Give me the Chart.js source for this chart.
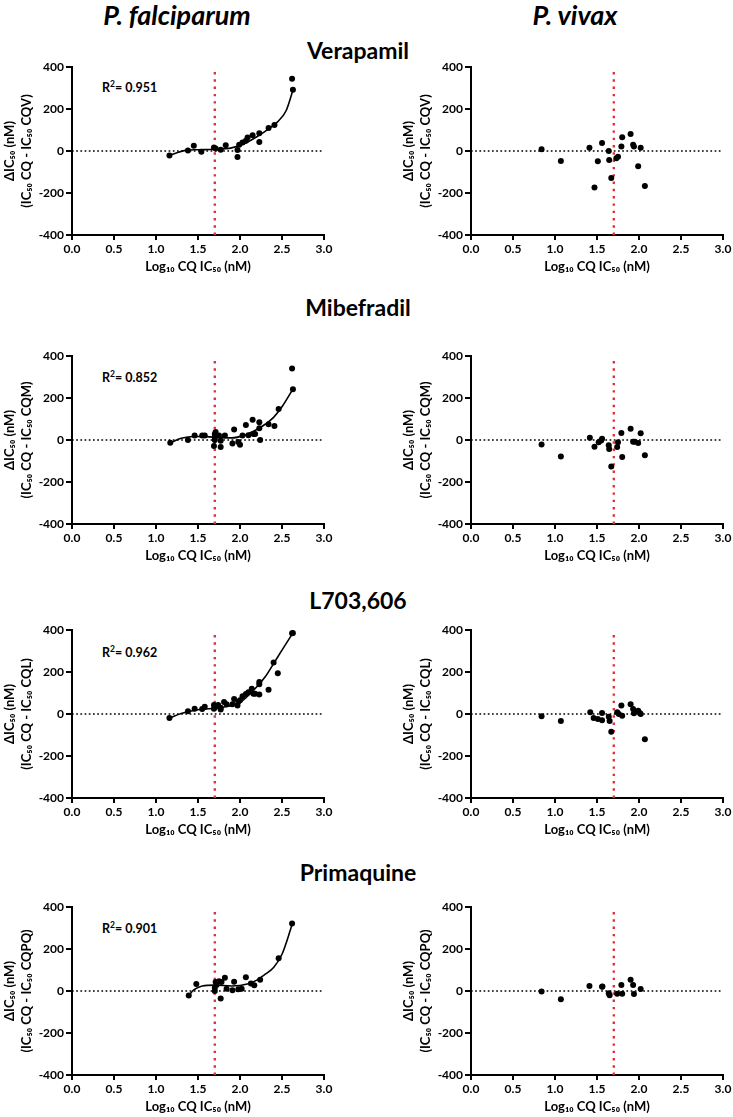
<!DOCTYPE html>
<html><head><meta charset="utf-8">
<script src="https://cdn.jsdelivr.net/npm/chart.js@4.4.1/dist/chart.umd.min.js"></script>
<style>
body{margin:0;background:#fff;width:733px;height:1117px;position:relative;overflow:hidden;font-family:Lato,"Open Sans",sans-serif;color:#000;}
.lab{position:absolute;font-weight:bold;white-space:nowrap;transform:translate(-50%,-50%);}
.r2{position:absolute;font-weight:bold;font-size:12.5px;white-space:nowrap;transform:translateY(-50%);}
.r2 sup{font-size:8.5px;vertical-align:5px;line-height:0;}
canvas{position:absolute;}
</style></head><body>
<div class="lab" style="left:177px;top:14px;font-size:27px;font-style:italic">P. falciparum</div>
<div class="lab" style="left:575px;top:14px;font-size:27px;font-style:italic">P. vivax</div>
<div class="lab" style="left:358px;top:50px;font-size:23px">Verapamil</div>
<div class="lab" style="left:358px;top:307px;font-size:23px">Mibefradil</div>
<div class="lab" style="left:358px;top:600px;font-size:23px">L703,606</div>
<div class="lab" style="left:358px;top:872px;font-size:23px">Primaquine</div>
<div class="r2" style="left:102px;top:87px">R<sup>2</sup>= 0.951</div>
<div class="r2" style="left:102px;top:377px">R<sup>2</sup>= 0.852</div>
<div class="r2" style="left:102px;top:652px">R<sup>2</sup>= 0.962</div>
<div class="r2" style="left:102px;top:928px">R<sup>2</sup>= 0.901</div>
<canvas id="c1"></canvas><canvas id="c2"></canvas>
<canvas id="c3"></canvas><canvas id="c4"></canvas>
<canvas id="c5"></canvas><canvas id="c6"></canvas>
<canvas id="c7"></canvas><canvas id="c8"></canvas>
<script>
// ---- data ----
const xTickLabels = ['0.0','0.5','1.0','1.5','2.0','2.5','3.0'];
const yTicks = [-400,-200,0,200,400];
const refX = 1.7;
const refY = 0;

const verPfX = [1.16,1.38,1.45,1.54,1.69,1.71,1.77,1.83,1.97,1.97,1.99,2.03,2.07,2.09,2.15,2.23,2.23,2.34,2.41,2.62,2.63];
const verPfY = [-22,2,25,-4,17,12,6,27,5,-29,30,41,49,64,75,84,43,110,124,344,292];
const verPfFitX = [1.16,1.25,1.35,1.5,1.7,1.9,2.05,2.2,2.35,2.45,2.55,2.63];
const verPfFitY = [-22,-8,3,6,8,15,35,68,108,140,193,289];
const verPvX = [0.84,1.07,1.41,1.47,1.51,1.56,1.64,1.645,1.67,1.73,1.75,1.79,1.80,1.90,1.93,1.94,1.99,2.02,2.07];
const verPvY = [8,-48,16,-174,-49,38,0,-43,-129,-35,-27,22,65,81,30,22,-73,16,-167];

const mibPfX = [1.17,1.38,1.46,1.55,1.58,1.69,1.70,1.70,1.70,1.71,1.75,1.77,1.77,1.82,1.91,1.93,1.98,2.00,2.03,2.07,2.10,2.15,2.16,2.18,2.23,2.23,2.24,2.34,2.41,2.46,2.62,2.63];
const mibPfY = [-13,0,21,21,21,-28,28,12,0,38,21,-4,-33,21,-17,50,-9,-23,21,72,23,96,28,28,85,56,0,75,67,148,340,242];
const mibPfFitX = [1.17,1.3,1.45,1.6,1.75,1.9,2.05,2.2,2.3,2.4,2.5,2.63];
const mibPfFitY = [-13,8,17,16,12,10,22,50,75,108,158,242];
const mibPvX = [0.84,1.07,1.415,1.47,1.52,1.55,1.56,1.64,1.645,1.67,1.74,1.75,1.79,1.80,1.90,1.93,1.95,1.99,2.02,2.07];
const mibPvY = [-22,-78,11,-32,-11,-2,6,-25,-43,-126,-33,-11,33,-81,54,-8,-8,-14,32,-73];

const l7PfX = [1.16,1.38,1.46,1.55,1.58,1.69,1.69,1.71,1.74,1.77,1.77,1.81,1.84,1.91,1.93,1.97,1.98,2.00,2.03,2.07,2.10,2.14,2.16,2.18,2.23,2.23,2.23,2.34,2.40,2.45,2.62,2.63];
const l7PfY = [-19,13,25,24,35,25,43,35,43,22,30,57,46,46,71,41,58,65,85,95,104,120,96,96,142,152,93,115,245,194,384,386];
const l7PfFitX = [1.16,1.3,1.45,1.6,1.8,2.0,2.1,2.2,2.3,2.4,2.5,2.63];
const l7PfFitY = [-19,2,17,24,32,55,88,130,177,240,304,386];
const l7PvX = [0.84,1.07,1.42,1.46,1.51,1.56,1.56,1.64,1.65,1.67,1.74,1.76,1.79,1.80,1.90,1.93,1.94,1.99,2.01,2.02,2.07];
const l7PvY = [-11,-33,8,-19,-24,-30,5,-13,-33,-85,8,0,41,-8,46,24,3,16,5,0,-120];

const prPfX = [1.39,1.48,1.70,1.70,1.71,1.72,1.75,1.77,1.78,1.82,1.84,1.91,1.93,1.98,2.02,2.07,2.13,2.17,2.24,2.46,2.62];
const prPfY = [-22,33,0,16,43,28,47,-36,43,63,11,3,44,8,11,66,36,27,54,156,321];
const prPfFitX = [1.39,1.45,1.55,1.7,1.9,2.1,2.2,2.3,2.4,2.5,2.62];
const prPfFitY = [-22,5,24,28,24,35,52,80,112,175,315];
const prPvX = [0.84,1.07,1.41,1.56,1.565,1.64,1.65,1.74,1.79,1.80,1.90,1.93,1.94,2.02];
const prPvY = [-2,-39,24,20,22,-11,-20,-13,28,-13,54,28,-14,9];

// ---- drawing ----
const FONT = 'Lato, "Open Sans", sans-serif';
const pts = (xs, ys) => xs.map((x, i) => ({x, y: ys[i]}));

function makeChart(id, left, top, suffix, xs, ys, fx, fy) {
  const cv = document.getElementById(id);
  cv.width = 346; cv.height = 228;
  cv.style.left = left + 'px'; cv.style.top = top + 'px';
  const datasets = [
    {data: pts(xs, ys), backgroundColor: '#000', borderColor: '#000', pointRadius: 3, pointBorderWidth: 0, showLine: false}
  ];
  if (fx) datasets.push({data: pts(fx, fy), showLine: true, borderColor: '#000', borderWidth: 1.6, pointRadius: 0, tension: 0.4, cubicInterpolationMode: 'monotone', fill: false});
  datasets.push({data: [{x: +xTickLabels[0], y: refY}, {x: +xTickLabels[xTickLabels.length - 1], y: refY}], showLine: true, borderColor: '#000', borderWidth: 1.7, borderDash: [1.7, 2.5], pointRadius: 0});
  datasets.push({data: [{x: refX, y: yTicks[0]}, {x: refX, y: yTicks[yTicks.length - 1]}], showLine: true, borderColor: '#e0323a', borderWidth: 2.4, borderDash: [2.4, 4.9], pointRadius: 0});
  new Chart(cv, {
    type: 'scatter',
    data: {datasets},
    options: {
      responsive: false, animation: false, devicePixelRatio: 1,
      layout: {padding: {top: 20, right: 22, left: 0, bottom: 0}},
      plugins: {legend: {display: false}, tooltip: {enabled: false}},
      scales: {
        x: {
          type: 'linear', min: 0, max: 3,
          afterBuildTicks: s => { s.ticks = xTickLabels.map(v => ({value: +v})); },
          afterFit: s => { s.height = 40; },
          ticks: {callback: v => (+v).toFixed(1), color: '#000', font: {family: FONT, size: 12, weight: 'bold'}, padding: 2, maxRotation: 0},
          grid: {drawOnChartArea: false, drawTicks: true, tickLength: 5, color: '#000', lineWidth: 2},
          border: {color: '#000', width: 2},
          title: {display: true, text: 'Log₁₀ CQ IC₅₀ (nM)', color: '#000', font: {family: FONT, size: 13, weight: 'bold', lineHeight: 1.2}, padding: {top: 0, bottom: 0.2}}
        },
        y: {
          type: 'linear', min: -400, max: 400,
          afterBuildTicks: s => { s.ticks = yTicks.map(v => ({value: v})); },
          afterFit: s => { s.width = 72; },
          ticks: {color: '#000', font: {family: FONT, size: 12, weight: 'bold'}, padding: 2},
          grid: {drawOnChartArea: false, drawTicks: true, tickLength: 6, color: '#000', lineWidth: 2},
          border: {color: '#000', width: 2},
          title: {display: true, text: ['ΔIC₅₀ (nM)', '(IC₅₀ CQ - IC₅₀ CQ' + suffix + ')'], color: '#000', font: {family: FONT, size: 13, weight: 'bold', lineHeight: 1.31}, padding: {top: 1.5, bottom: 0}}
        }
      }
    }
  });
}

makeChart('c1', 0, 47, 'V', verPfX, verPfY, verPfFitX, verPfFitY);
makeChart('c2', 399, 47, 'V', verPvX, verPvY);
makeChart('c3', 0, 336, 'M', mibPfX, mibPfY, mibPfFitX, mibPfFitY);
makeChart('c4', 399, 336, 'M', mibPvX, mibPvY);
makeChart('c5', 0, 610, 'L', l7PfX, l7PfY, l7PfFitX, l7PfFitY);
makeChart('c6', 399, 610, 'L', l7PvX, l7PvY);
makeChart('c7', 0, 887, 'PQ', prPfX, prPfY, prPfFitX, prPfFitY);
makeChart('c8', 399, 887, 'PQ', prPvX, prPvY);
</script>
</body></html>
